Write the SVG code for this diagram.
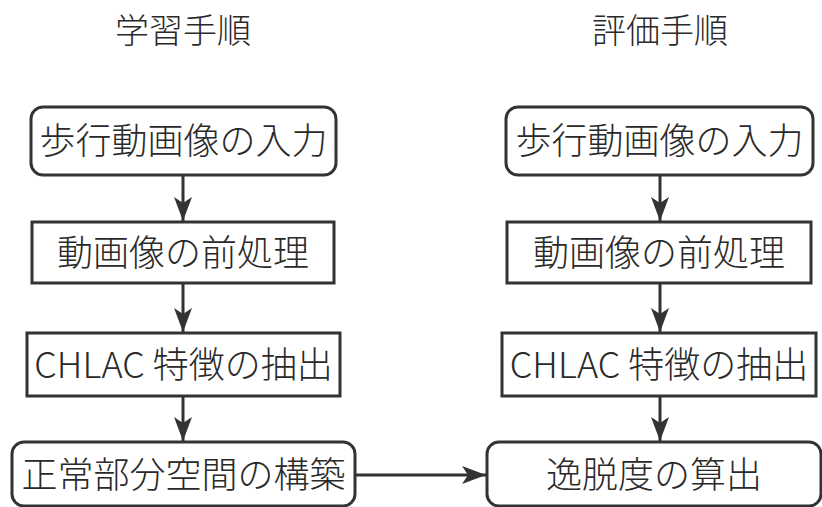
<svg xmlns="http://www.w3.org/2000/svg" width="822" height="507" viewBox="0 0 822 507">
<style>
.box{fill:#fff;stroke:#333;stroke-width:3}
.t{font-family:"Noto Sans CJK JP","Noto Sans",sans-serif;font-size:36px;fill:#2a2a2a;text-anchor:middle;font-weight:300}
.h{font-family:"Noto Sans CJK JP","Noto Sans",sans-serif;font-size:34px;fill:#2a2a2a;text-anchor:middle;font-weight:300}
.c{stroke:#333;stroke-width:3;fill:none}
</style>
<defs>
<marker id="ah" viewBox="0 0 24 18" refX="24" refY="9" markerWidth="24" markerHeight="18" markerUnits="userSpaceOnUse" orient="auto">
<path d="M0,0 L24,9 L0,18 L6,9 Z" fill="#333"/>
</marker>
</defs>
<rect width="822" height="507" fill="#fff"/>
<text class="h" x="183" y="43">学習手順</text>
<text class="h" x="660" y="43">評価手順</text>
<g id="connectors">
<line class="c" x1="183" y1="175" x2="183" y2="221" marker-end="url(#ah)"/>
<line class="c" x1="183" y1="283" x2="183" y2="332" marker-end="url(#ah)"/>
<line class="c" x1="183" y1="396" x2="183" y2="441" marker-end="url(#ah)"/>
<line class="c" x1="660" y1="175" x2="660" y2="221" marker-end="url(#ah)"/>
<line class="c" x1="660" y1="283" x2="660" y2="332" marker-end="url(#ah)"/>
<line class="c" x1="660" y1="396" x2="660" y2="441" marker-end="url(#ah)"/>
<line class="c" x1="355" y1="475" x2="486" y2="475" marker-end="url(#ah)"/>
</g>
<g id="l1"><rect class="box" x="31" y="107" width="305" height="68" rx="12"/><text class="t" x="183.5" y="154">歩行動画像の入力</text></g>
<g id="l2"><rect class="box" x="32" y="222" width="302" height="61"/><text class="t" x="183" y="266">動画像の前処理</text></g>
<g id="l3"><rect class="box" x="27" y="333" width="313" height="63"/><text class="t" x="183.5" y="378">CHLAC 特徴の抽出</text></g>
<g id="l4"><rect class="box" x="12" y="442" width="343" height="64" rx="12"/><text class="t" x="183.5" y="488">正常部分空間の構築</text></g>
<g id="r1"><rect class="box" x="506" y="107" width="307" height="68" rx="12"/><text class="t" x="659.5" y="154">歩行動画像の入力</text></g>
<g id="r2"><rect class="box" x="507" y="222" width="304" height="61"/><text class="t" x="659" y="266">動画像の前処理</text></g>
<g id="r3"><rect class="box" x="502" y="333" width="314" height="63"/><text class="t" x="659" y="378">CHLAC 特徴の抽出</text></g>
<g id="r4"><rect class="box" x="487" y="442" width="334" height="64" rx="12"/><text class="t" x="654" y="488">逸脱度の算出</text></g>
</svg>
